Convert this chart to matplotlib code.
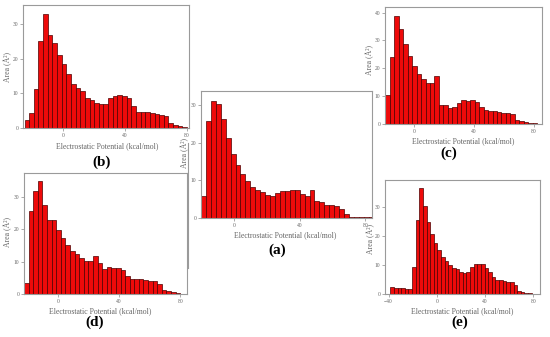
import matplotlib
matplotlib.use("Agg")
import matplotlib.pyplot as plt
import numpy as np

# ---- data (area per 3 kcal/mol bin) ----
bin_width = 3.0
a_start = -20.0
a_vals = [5.8, 25.7, 31.1, 30.3, 26.2, 21.3, 17.0, 14.1, 11.7, 9.8, 8.4, 7.6, 7.0, 6.1,
          5.8, 6.6, 7.1, 7.3, 7.4, 7.5, 6.3, 5.9, 7.6, 4.5, 4.2, 3.6, 3.4, 3.3, 2.4, 1.2,
          0.4, 0.3, 0.3, 0.3, 0.3]
b_start = -25.0
b_vals = [2.3, 4.2, 11.3, 25.0, 32.8, 26.7, 24.5, 21.2, 18.5, 15.5, 12.8, 11.5, 10.6, 8.8,
          8.0, 7.3, 7.0, 6.9, 8.7, 9.3, 9.4, 9.2, 8.8, 6.4, 4.6, 4.6, 4.6, 4.3, 3.9, 3.8,
          3.6, 1.3, 1.0, 0.6, 0.3]
c_start = -19.5
c_vals = [10.5, 24.0, 38.6, 34.0, 28.7, 24.5, 20.8, 18.0, 16.0, 14.7, 14.7, 17.3, 7.0, 6.7,
          5.9, 6.1, 7.5, 8.5, 8.2, 8.5, 7.9, 6.0, 5.2, 4.8, 4.6, 4.2, 4.0, 3.8, 3.6, 1.5,
          1.0, 0.6, 0.3, 0.2, 0.1]
d_start = -22.0
d_vals = [3.5, 25.7, 31.8, 34.7, 27.5, 22.7, 22.7, 19.9, 17.2, 15.2, 13.4, 12.3, 11.3, 10.3,
          10.3, 11.8, 9.7, 7.9, 8.3, 8.1, 8.1, 7.4, 5.5, 4.8, 4.7, 4.6, 4.4, 4.1, 4.0, 3.1,
          1.3, 0.9, 0.6, 0.3, 0.2]
e_start = -38.5
e_vals = [2.6, 2.3, 2.1, 2.0, 1.8, 1.7, 9.3, 25.4, 36.5, 30.3, 24.7, 20.8, 17.5, 15.1, 12.8,
          11.3, 10.1, 9.2, 8.6, 7.8, 7.4, 7.5, 9.3, 10.5, 10.5, 10.3, 9.0, 7.7, 5.8, 5.0,
          4.8, 4.5, 4.2, 4.1, 3.2, 1.2, 0.9, 0.6, 0.3, 0.2, 0.1]

x_ticks_main = [0, 40, 80]
x_ticks_e = [-40, 0, 40, 80]
xlabel = "Electrostatic Potential (kcal/mol)"
ylabel = "Area (Å²)"

W, H = 550, 337
fig = plt.figure(figsize=(5.5, 3.37), dpi=100)
fig.patch.set_facecolor("white")

def px_rect(l, t, r, b):
    return [l / W, 1 - b / H, (r - l) / W, (b - t) / H]

panels = [
    # name, vals, start, rect(px), xlim, ylim, yticks, xticks, letter pos, xlabel pos, ylabel pos
    ("(b)", b_vals, b_start, (23, 5, 189, 128), (-26, 81.3), (0, 35.5), [0, 10, 20, 30], x_ticks_main,
     (102, 162), (107, 146), (8, 67)),
    ("(a)", a_vals, a_start, (201, 91.5, 372, 218.3), (-20, 84), (0, 33.5), [0, 10, 20, 30], x_ticks_main,
     (277, 250), (285, 235), (185, 153)),
    ("(c)", c_vals, c_start, (385, 7, 541.7, 124), (-19.7, 85.5), (0, 42), [0, 10, 20, 30, 40], x_ticks_main,
     (449, 153), (463, 141), (370, 60)),
    ("(d)", d_vals, d_start, (24, 173.3, 187.3, 294.3), (-22, 84.6), (0, 37.2), [0, 10, 20, 30], x_ticks_main,
     (95, 322), (100, 311), (8, 232)),
    ("(e)", e_vals, e_start, (385, 180, 540, 294.3), (-42.9, 85.4), (0, 39.3), [0, 10, 20, 30], x_ticks_e,
     (460, 322), (462, 311), (371, 239)),
]

serif = ["Liberation Serif", "DejaVu Serif"]
gray = "#666666"

for name, vals, start, rect, xlim, ylim, yticks, xticks, lp, xlp, ylp in panels:
    ax = fig.add_axes(px_rect(*rect))
    vals = np.asarray(vals)
    lefts = start + bin_width * np.arange(len(vals))
    ax.bar(lefts, vals, width=bin_width, align="edge", color="#ee0a0a",
           edgecolor="#4a0000", linewidth=0.5)
    ax.set_xlim(*xlim)
    ax.set_ylim(*ylim)
    ax.set_xticks(xticks)
    ax.set_yticks(yticks)
    for sp in ax.spines.values():
        sp.set_color("#9a9a9a")
        sp.set_linewidth(0.8)
    ax.tick_params(axis="both", length=2, width=0.5, color="#888888", labelsize=4,
                   labelcolor=gray, pad=1.5)
    for lab in ax.get_xticklabels() + ax.get_yticklabels():
        lab.set_family(serif)
    fig.text(xlp[0] / W, 1 - xlp[1] / H, xlabel, ha="center", va="center",
             fontsize=5.6, color=gray, family=serif)
    fig.text(ylp[0] / W, 1 - ylp[1] / H, ylabel, ha="center", va="center",
             fontsize=5.6, color=gray, family=serif, rotation=90)
    fig.text(lp[0] / W, 1 - lp[1] / H, name, ha="center", va="center",
             fontsize=11, fontweight="bold", color="black", family=serif)

# thin frame line left of panel (a)
fig.add_artist(plt.Line2D([188 / W, 188 / W], [1 - 143 / H, 1 - 268 / H],
                          color="#9a9a9a", linewidth=0.8))

fig.savefig("out.png", dpi=100)
